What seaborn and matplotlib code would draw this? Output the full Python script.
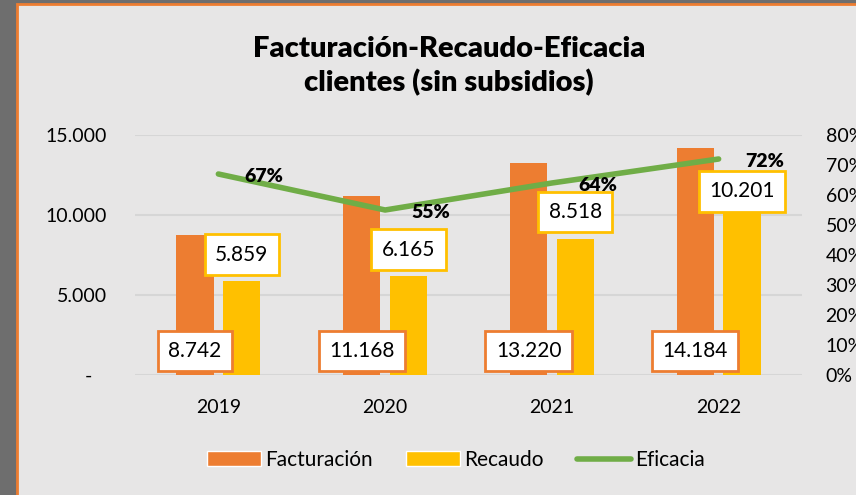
import numpy as np
import pandas as pd
import seaborn as sns
import matplotlib.pyplot as plt
from matplotlib.patches import Rectangle, Patch
from matplotlib.lines import Line2D

years = ['2019', '2020', '2021', '2022']
facturacion = [8742, 11168, 13220, 14184]
recaudo = [5859, 6165, 8518, 10201]
eficacia = [0.67, 0.55, 0.64, 0.72]
left_ticks = [0, 5000, 10000, 15000]
left_labels = ['-   ', '5.000', '10.000', '15.000']
right_ticks = [0, 0.1, 0.2, 0.3, 0.4, 0.5, 0.6, 0.7, 0.8]

ORANGE = '#ed7d31'
YELLOW = '#ffc000'
GREEN = '#70ad47'
BG = '#e7e6e6'

sns.set_style('white')
plt.rcParams['font.family'] = ['Lato', 'DejaVu Sans']
plt.rcParams['text.color'] = 'black'
plt.rcParams['xtick.color'] = 'black'
plt.rcParams['ytick.color'] = 'black'

def fmt(v):
    return f'{v:,}'.replace(',', '.')

df = pd.DataFrame({
    'Año': years * 2,
    'Valor': facturacion + recaudo,
    'Serie': ['Facturación'] * 4 + ['Recaudo'] * 4,
})

fig = plt.figure(figsize=(8.56, 4.95), dpi=100, facecolor='#6e6e6e')
fig.add_artist(Rectangle((17 / 856, -0.1), 1.2, (495 - 4) / 495 + 0.1,
                         transform=fig.transFigure, facecolor=BG,
                         edgecolor=ORANGE, linewidth=2, zorder=-10))

ax = fig.add_axes([135 / 856, 120 / 495, 667 / 856, 240 / 495])
ax.set_facecolor('none')
sns.barplot(data=df, x='Año', y='Valor', hue='Serie', palette=[ORANGE, YELLOW],
            saturation=1, linewidth=0, width=0.56, gap=0.2, ax=ax,
            legend=False, zorder=3)
ax.set_xlim(-0.5, 3.5)
ax.set_ylim(0, 15000)
ax.set_yticks(left_ticks)
ax.set_yticklabels(left_labels)
ax.set_xlabel('')
ax.set_ylabel('')
ax.tick_params(axis='y', length=0, pad=20, labelsize=14)
ax.tick_params(axis='x', length=0, pad=17, labelsize=14)
ax.grid(axis='y', color='#d6d6d6', linewidth=1.5, zorder=0)
ax.set_axisbelow(True)
sns.despine(ax=ax, left=True, bottom=True)

off = 0.14
for i, v in enumerate(facturacion):
    ax.text(i - off, 1500, fmt(v), ha='center', va='center', fontsize=15, zorder=5,
            bbox=dict(boxstyle='square,pad=0.5', fc='white', ec=ORANGE, lw=2))
# excel pulls the last label down onto the bar top
label_lift = [12, 12, 12, 7.5]
for i, v in enumerate(recaudo):
    ax.annotate(fmt(v), (i + off, v), xytext=(0, label_lift[i]), textcoords='offset points',
                ha='center', va='bottom', fontsize=15, zorder=5,
                bbox=dict(boxstyle='square,pad=0.5', fc='white', ec=YELLOW, lw=2))

ax2 = ax.twinx()
sns.lineplot(x=np.arange(len(years)), y=eficacia, ax=ax2, color=GREEN, linewidth=4)
ax2.set_ylim(0, 0.8)
ax2.set_yticks(right_ticks)
ax2.set_yticklabels([f'{int(round(t * 100))}%' for t in right_ticks])
ax2.tick_params(axis='y', length=0, pad=17, labelsize=14)
sns.despine(ax=ax2, left=True, bottom=True, right=True)
for i, e in enumerate(eficacia):
    ax2.annotate(f'{int(round(e * 100))}%', (i, e), xytext=(33, -2),
                 textcoords='offset points', ha='center', va='center',
                 fontsize=14, fontweight='heavy')

fig.text(449 / 856, 1 - 66 / 495, 'Facturación-Recaudo-Eficacia\nclientes (sin subsidios)',
         ha='center', va='center', fontsize=21, fontweight='heavy', linespacing=1.3)

handles = [Patch(facecolor=ORANGE), Patch(facecolor=YELLOW),
           Line2D([0], [0], color=GREEN, lw=4, solid_capstyle='round')]
fig.legend(handles, ['Facturación', 'Recaudo', 'Eficacia'], loc='center',
           bbox_to_anchor=(456 / 856, 1 - 460 / 495), ncol=3, frameon=False,
           fontsize=15, handlelength=2.6, handletextpad=0.2, columnspacing=1.6)

fig.savefig('out.png', dpi=100, facecolor=fig.get_facecolor())
